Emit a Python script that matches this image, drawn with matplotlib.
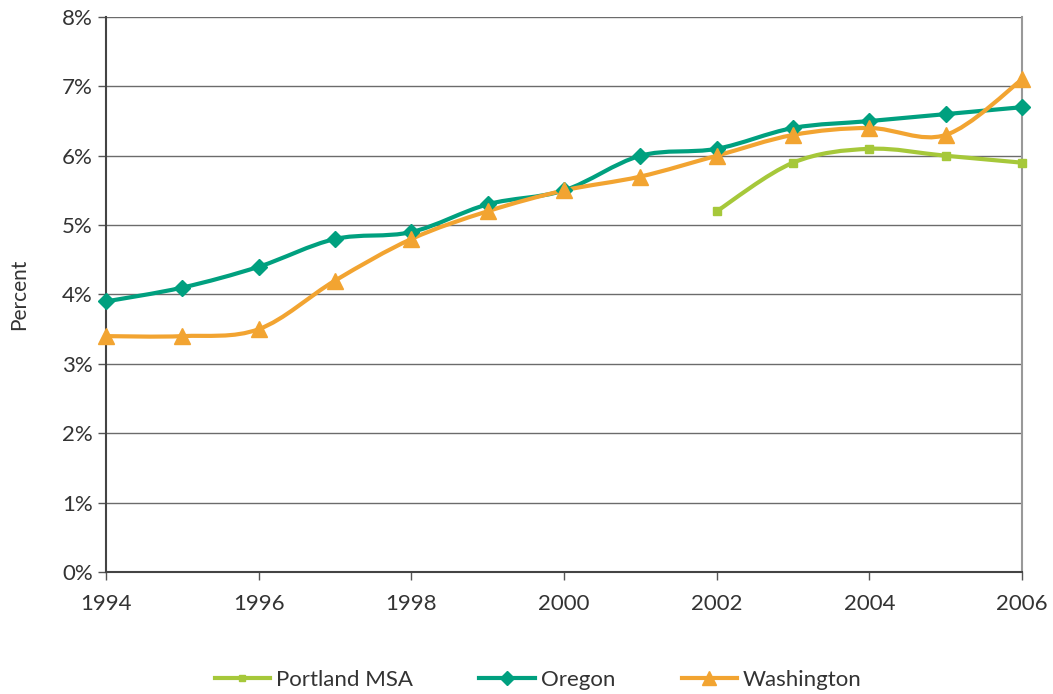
import numpy as np
import matplotlib
matplotlib.use("Agg")
import matplotlib.pyplot as plt
from matplotlib.path import Path
from matplotlib.patches import PathPatch
from matplotlib.lines import Line2D
from matplotlib.ticker import FuncFormatter

plt.rcParams['font.family'] = ['Lato', 'DejaVu Sans']

# data
years = [1994, 1995, 1996, 1997, 1998, 1999, 2000, 2001, 2002, 2003, 2004, 2005, 2006]
oregon = [3.9, 4.1, 4.4, 4.8, 4.9, 5.3, 5.5, 6.0, 6.1, 6.4, 6.5, 6.6, 6.7]
washington = [3.4, 3.4, 3.5, 4.2, 4.8, 5.2, 5.5, 5.7, 6.0, 6.3, 6.4, 6.3, 7.1]
portland_years = [2002, 2003, 2004, 2005, 2006]
portland = [5.2, 5.9, 6.1, 6.0, 5.9]

c_portland = '#a6c83a'
c_oregon = '#00a07f'
c_washington = '#f2a431'


def smooth_path(x, y):
    # Excel-style smoothed line as cubic bezier segments
    x = np.asarray(x, float)
    y = np.asarray(y, float)
    pts = np.column_stack([x, y])
    n = len(pts)
    verts = [pts[0]]
    codes = [Path.MOVETO]
    for i in range(n - 1):
        p0 = pts[i - 1] if i > 0 else pts[i]
        p1 = pts[i]
        p2 = pts[i + 1]
        p3 = pts[i + 2] if i + 2 < n else pts[i + 1]
        c1 = p1 + (p2 - p0) / 6.0
        c2 = p2 - (p3 - p1) / 6.0
        verts += [c1, c2, p2]
        codes += [Path.CURVE4] * 3
    return Path(verts, codes)


fig = plt.figure(figsize=(10.53, 6.94), dpi=100)
ax = fig.add_axes([0.1007, 0.1758, 0.8699, 0.7997])

series = [
    ('Portland MSA', portland_years, portland, c_portland, 's', 6),
    ('Oregon', years, oregon, c_oregon, 'D', 8),
    ('Washington', years, washington, c_washington, '^', 11),
]

handles = []
for name, xs, ys, col, mk, ms in series:
    ax.add_patch(PathPatch(smooth_path(xs, ys), facecolor='none', edgecolor=col,
                           lw=3, zorder=3, clip_on=False))
    ax.plot(xs, ys, linestyle='none', marker=mk, markersize=ms, color=col,
            zorder=4, clip_on=False)
    handles.append(Line2D([], [], color=col, lw=3, marker=mk, markersize=ms - 1))

ax.set_xlim(1994, 2006)
ax.set_ylim(0, 8)
ax.set_xticks(range(1994, 2007, 2))
ax.set_yticks(range(0, 9))
ax.yaxis.set_major_formatter(FuncFormatter(lambda v, p: f'{int(v)}%'))
ax.tick_params(axis='both', direction='out', length=6, width=1, color='#555555',
               labelsize=16, labelcolor='#333333')
ax.tick_params(axis='x', pad=10)
ax.grid(axis='y', color='#6b6b6b', lw=1)
ax.set_axisbelow(True)
ax.spines['top'].set_visible(False)
ax.spines['right'].set_color('#999999')
ax.spines['right'].set_linewidth(1.5)
for s in ['left', 'bottom']:
    ax.spines[s].set_color('#444444')
    ax.spines[s].set_linewidth(1.5)

ax.set_ylabel('Percent', fontsize=15, color='#333333', labelpad=24)

fig.legend(handles, [s[0] for s in series], loc='center', bbox_to_anchor=(0.511, 0.02),
           ncol=3, frameon=False, fontsize=16, handlelength=2.5, columnspacing=3.0,
           handletextpad=0.25, labelcolor='#333333')

fig.savefig('out.png', dpi=100)
